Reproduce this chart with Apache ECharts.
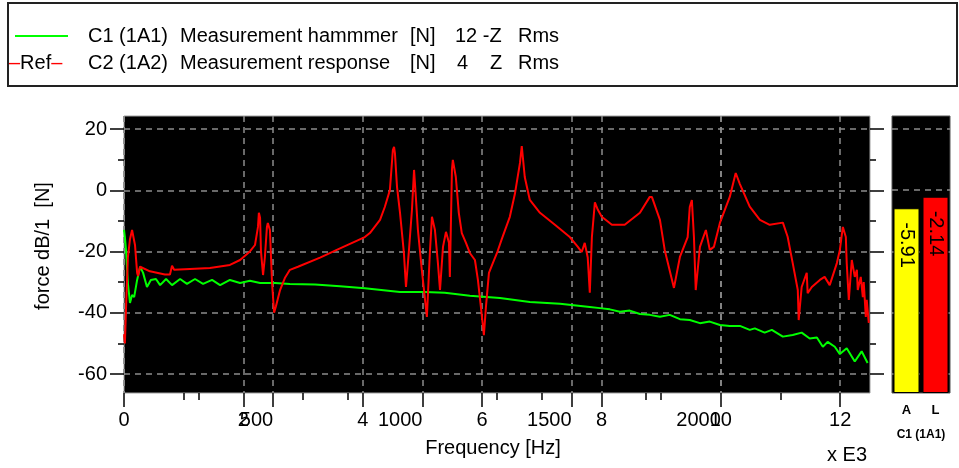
<!DOCTYPE html>
<html><head><meta charset="utf-8">
<script src="https://cdn.jsdelivr.net/npm/echarts@6/dist/echarts.min.js"></script>
<style>html,body{margin:0;padding:0;background:#fff}#c{width:959px;height:468px}</style>
</head><body><div id="c"></div>
<script>
// ---- data ----
const responseFreqHz = [0,3,7,13,20,27,30,37,44,47,54,87,137,154,161,168,221,288,355,389,422,439,449,452,456,459,466,472,479,482,489,496,503,509,523,539,556,583,657,724,807,824,858,874,891,901,905,908,915,925,938,945,955,965,972,978,985,998,1008,1015,1025,1032,1042,1052,1059,1069,1079,1089,1092,1099,1102,1112,1122,1132,1146,1159,1176,1186,1196,1206,1213,1223,1236,1250,1266,1293,1310,1327,1333,1343,1360,1394,1444,1494,1521,1534,1544,1554,1561,1568,1578,1588,1601,1635,1678,1729,1762,1769,1796,1812,1843,1863,1889,1896,1903,1910,1916,1930,1950,1963,1977,1997,2030,2050,2064,2097,2131,2164,2208,2224,2241,2258,2261,2271,2288,2291,2305,2332,2348,2365,2389,2399,2409,2419,2422,2429,2439,2449,2456,2459,2469,2476,2479,2486,2489,2496];
const responseDb = [-47,-50,-38,-22,-16,-13,-12.7,-18,-27,-28,-25,-26.5,-27.5,-27.5,-24.7,-26,-25.7,-25.4,-24.4,-22.8,-20,-17.9,-12,-7.4,-9,-20,-27.7,-22,-12,-10.7,-13,-30,-40,-38,-32.6,-28.7,-26,-25,-22,-19,-15.3,-14,-9.7,-5.5,0,13.1,14.1,12,1,-7.4,-20.5,-31.6,-19.5,-6.4,6.6,-2.2,-13,-26,-35,-41.4,-20.5,-8.7,-13,-23.8,-32.6,-18.5,-13.6,-17.2,-28.3,6.6,9.9,4.3,-7.4,-14,-17.2,-20.5,-22.8,-29.3,-38.1,-47.3,-38,-27,-23.8,-20.5,-16,-8.7,-1.2,8.9,14.4,4.3,-3.2,-7.4,-11.3,-15.3,-18.5,-20.2,-17.2,-22,-33.5,-15.3,-4,-6.4,-8.7,-11.3,-11.3,-7.4,-2.2,-2.2,-9.7,-19.5,-31.9,-21.8,-15.3,-5.5,-3.2,-15.3,-32.6,-18.5,-13,-19.5,-18.5,-10.7,-2.2,5.6,2,-5.4,-9.7,-11.3,-10.6,-15.2,-23.8,-32.6,-42.4,-31.6,-27,-33.6,-31.6,-29.3,-28.3,-31,-23.8,-19.5,-12,-15.3,-23.8,-35.8,-22.8,-28.3,-26,-32.6,-28.3,-34.9,-30,-41.4,-35.8,-43.3];
const hammerFreqHz = [0,3,7,13,20,27,34,44,54,64,77,90,107,121,141,161,188,211,238,265,295,322,355,389,422,456,506,556,640,724,807,925,1008,1075,1159,1260,1360,1461,1561,1595,1628,1662,1695,1729,1762,1796,1829,1863,1896,1930,1963,1997,2030,2064,2097,2114,2147,2171,2208,2241,2271,2298,2322,2342,2358,2382,2399,2422,2449,2472,2492];
const hammerDb = [-13,-15.3,-20,-30.3,-36.8,-34.2,-34.9,-29.3,-25,-27,-31.6,-29.3,-29,-31,-29,-31,-29,-30.6,-29,-30.6,-29.3,-31,-29.3,-30.3,-29.6,-30.3,-30.3,-30.6,-30.8,-31.4,-32,-33.2,-33.2,-33.5,-34.5,-35.2,-36.5,-37.1,-38.1,-38.5,-38.9,-39.7,-39.3,-40.4,-40.7,-41.3,-40.7,-42.1,-42.4,-43.4,-42.9,-44,-44.3,-44.3,-45.6,-45.1,-46.5,-45.6,-47.8,-47.3,-46.5,-48.4,-48.1,-51.1,-49.5,-51.1,-53.5,-51.6,-55.9,-52.6,-56.4];
const barCategories = ['A', 'L'];
const barValues = [-5.91, -2.14];
const barColors = ['#ffff00', '#ff0000'];
// tick values / labels
const hzMajorTicks = [0, 500, 1000, 1500, 2000];
const hzTickLabels = [500, 1000, 1500, 2000];
const hzMinorTicks = [250, 750, 1250, 1750];
const khzMajorTicks = [0, 2, 4, 6, 8, 10, 12];
const khzMinorTicks = [1, 3, 5, 7, 9, 11];

const FONT = '"Liberation Sans", Arial, sans-serif';
const zip = (a, b) => a.map((v, i) => [v, b[i]]);
const tickStyle = { color: '#000', width: 1.5 };
const gridLine = { show: true, lineStyle: { color: '#8c8c8c', width: 1.5, type: [6, 5] } };
const noLine = { show: false, onZero: false };
const plain = v => String(v);
const minorAxis = (max, vals) => ({ gridIndex: 0, type: 'value', min: 0, max: max, position: 'bottom',
  axisLine: noLine, axisTick: { show: true, length: 7, lineStyle: tickStyle, customValues: vals },
  minorTick: { show: false }, axisLabel: { show: false }, splitLine: { show: false } });

const chart = echarts.init(document.getElementById('c'), null, { renderer: 'canvas' });
chart.setOption({
  animation: false,
  backgroundColor: '#ffffff',
  textStyle: { fontFamily: FONT },
  grid: [
    { left: 124, top: 116, width: 746, height: 277, show: true, backgroundColor: '#000', borderColor: '#a0a0a0', borderWidth: 1, outerBoundsMode: 'none' },
    { left: 124, top: 129, width: 746, height: 245, show: false, outerBoundsMode: 'none' },
    { left: 892, top: 116, width: 58, height: 277, show: true, backgroundColor: '#000', borderColor: '#555', borderWidth: 1, outerBoundsMode: 'none' }
  ],
  xAxis: [
    { gridIndex: 0, type: 'value', min: 0, max: 2500, interval: 500, position: 'bottom',
      axisLine: noLine, axisTick: { show: true, length: 14, lineStyle: tickStyle, customValues: hzMajorTicks },
      minorTick: { show: false },
      axisLabel: { show: true, fontSize: 20, color: '#000', margin: 17, align: 'right', fontFamily: FONT, formatter: plain, customValues: hzTickLabels },
      splitLine: gridLine },
    { gridIndex: 0, type: 'value', min: 0, max: 12.5, interval: 2, position: 'bottom',
      axisLine: noLine, axisTick: { show: true, length: 14, lineStyle: tickStyle, customValues: khzMajorTicks },
      minorTick: { show: false },
      axisLabel: { show: true, fontSize: 20, color: '#000', margin: 17, fontFamily: FONT, formatter: plain, customValues: khzMajorTicks },
      splitLine: gridLine },
    { gridIndex: 1, type: 'value', min: 0, max: 1, show: false, axisLine: noLine },
    { gridIndex: 2, type: 'category', data: barCategories,
      axisLine: noLine, axisTick: { show: false },
      axisLabel: { fontSize: 13, fontWeight: 'bold', color: '#000', margin: 11, fontFamily: FONT },
      name: 'C1 (1A1)', nameLocation: 'middle', nameGap: 36,
      nameTextStyle: { fontSize: 12, fontWeight: 'bold', color: '#000', fontFamily: FONT } },
    minorAxis(2500, hzMinorTicks),
    minorAxis(12.5, khzMinorTicks)
  ],
  yAxis: [
    { gridIndex: 0, type: 'value', min: -66.2, max: 24.2, show: false, axisLine: noLine },
    { gridIndex: 1, type: 'value', min: -60, max: 20, interval: 20, position: 'left',
      axisLine: noLine, axisTick: { show: true, length: 14, lineStyle: tickStyle },
      minorTick: { show: true, splitNumber: 2, length: 6, lineStyle: tickStyle },
      axisLabel: { show: true, fontSize: 20, color: '#000', margin: 17, fontFamily: FONT },
      splitLine: gridLine },
    { gridIndex: 1, type: 'value', min: -60, max: 20, interval: 20, position: 'right',
      axisLine: noLine, axisTick: { show: true, length: 14, lineStyle: tickStyle },
      minorTick: { show: true, splitNumber: 2, length: 6, lineStyle: tickStyle },
      axisLabel: { show: false }, splitLine: { show: false } },
    { gridIndex: 2, type: 'value', min: -66.2, max: 24.2, startValue: -66.2,
      axisLine: noLine, axisTick: { show: false }, axisLabel: { show: false },
      splitLine: { show: true, showMinLine: false, showMaxLine: false, lineStyle: { color: '#8c8c8c', width: 1.5, type: [6, 5] } } }
  ],
  series: [
    { type: 'line', name: 'C1', xAxisIndex: 0, yAxisIndex: 0, data: zip(hammerFreqHz, hammerDb),
      showSymbol: false, symbol: 'none', lineStyle: { color: '#00ff00', width: 2 }, itemStyle: { color: '#00ff00' }, clip: true },
    { type: 'line', name: 'C2', xAxisIndex: 0, yAxisIndex: 0, data: zip(responseFreqHz, responseDb),
      showSymbol: false, symbol: 'none', lineStyle: { color: '#ff0000', width: 2 }, itemStyle: { color: '#ff0000' }, clip: true },
    { type: 'bar', xAxisIndex: 3, yAxisIndex: 3, barWidth: 26,
      data: barValues.map((v, i) => ({ value: v, itemStyle: { color: barColors[i] } })),
      itemStyle: { borderColor: '#000', borderWidth: 1 },
      label: { show: true, position: 'insideTop', rotate: -90, align: 'left', verticalAlign: 'middle',
               distance: 14, fontSize: 20, color: '#000', fontFamily: FONT,
               formatter: p => p.value.toFixed(2) } }
  ],
  graphic: [
    { type: 'rect', shape: { x: 8, y: 3, width: 949, height: 83 }, style: { fill: 'none', stroke: '#222', lineWidth: 2 } },
    { type: 'line', shape: { x1: 15, y1: 36, x2: 68, y2: 36 }, style: { stroke: '#00ff00', lineWidth: 2 } },
    { type: 'text', x: 9, y: 63, style: { text: '{r|–}Ref{r|–}', rich: { r: { fill: '#ff0000', font: '20px ' + FONT } }, fill: '#000', font: '20px ' + FONT, verticalAlign: 'middle', align: 'left' } },
    { type: 'text', x: 88, y: 36, style: { text: 'C1 (1A1)', fill: '#000', font: '20px ' + FONT, verticalAlign: 'middle' } },
    { type: 'text', x: 180, y: 36, style: { text: 'Measurement hammmer', fill: '#000', font: '20px ' + FONT, verticalAlign: 'middle' } },
    { type: 'text', x: 410, y: 36, style: { text: '[N]', fill: '#000', font: '20px ' + FONT, verticalAlign: 'middle' } },
    { type: 'text', x: 455, y: 36, style: { text: '12 -Z', fill: '#000', font: '20px ' + FONT, verticalAlign: 'middle' } },
    { type: 'text', x: 518, y: 36, style: { text: 'Rms', fill: '#000', font: '20px ' + FONT, verticalAlign: 'middle' } },
    { type: 'text', x: 88, y: 63, style: { text: 'C2 (1A2)', fill: '#000', font: '20px ' + FONT, verticalAlign: 'middle' } },
    { type: 'text', x: 180, y: 63, style: { text: 'Measurement response', fill: '#000', font: '20px ' + FONT, verticalAlign: 'middle' } },
    { type: 'text', x: 410, y: 63, style: { text: '[N]', fill: '#000', font: '20px ' + FONT, verticalAlign: 'middle' } },
    { type: 'text', x: 457, y: 63, style: { text: '4', fill: '#000', font: '20px ' + FONT, verticalAlign: 'middle' } },
    { type: 'text', x: 490, y: 63, style: { text: 'Z', fill: '#000', font: '20px ' + FONT, verticalAlign: 'middle' } },
    { type: 'text', x: 518, y: 63, style: { text: 'Rms', fill: '#000', font: '20px ' + FONT, verticalAlign: 'middle' } },
    { type: 'text', x: 43, y: 246, rotation: Math.PI / 2, style: { text: 'force dB/1  [N]', fill: '#000', font: '20px ' + FONT, align: 'center', verticalAlign: 'middle' } },
    { type: 'text', x: 493, y: 448, style: { text: 'Frequency [Hz]', fill: '#000', font: '20px ' + FONT, align: 'center', verticalAlign: 'middle' } },
    { type: 'text', x: 847, y: 455, style: { text: 'x E3', fill: '#000', font: '20px ' + FONT, align: 'center', verticalAlign: 'middle' } }
  ]
});
</script></body></html>
